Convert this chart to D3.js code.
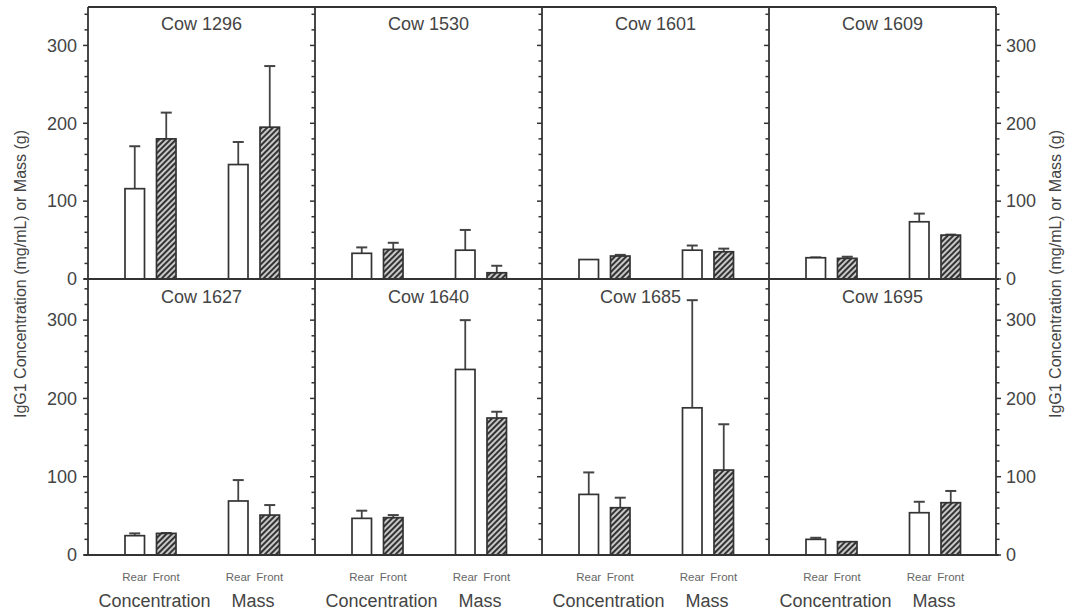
<!DOCTYPE html>
<html><head><meta charset="utf-8">
<script src="https://cdn.jsdelivr.net/npm/d3@7"></script>
<style>body{margin:0;background:#fff}svg{display:block}text{font-family:"Liberation Sans",Arial,sans-serif}</style>
</head><body>
<svg id="c" width="1071" height="615"></svg>
<script>
const cows = ["Cow 1296","Cow 1530","Cow 1601","Cow 1609","Cow 1627","Cow 1640","Cow 1685","Cow 1695"];
const groups = ["Concentration","Mass"];
const sides = ["Rear","Front"];
const rearConc   = [116, 33, 25, 27.3, 24.7, 46.8, 77.4, 20];
const rearConcSD = [54.5, 7.6, 0, 0.5, 2.9, 9.8, 28.1, 2];
const frontConc  = [180, 38, 29.5, 26.5, 27.6, 47.7, 60.4, 17];
const frontConcSD= [33.7, 8.5, 1.5, 2.1, 0.5, 3.3, 12.8, 0];
const rearMass   = [147, 37, 37, 73.5, 69, 237, 188, 54];
const rearMassSD = [29, 26, 6, 10.5, 26.7, 63, 137.5, 14];
const frontMass  = [195, 8, 35, 56.4, 51, 175, 108.5, 66.8];
const frontMassSD= [78.5, 9, 4, 0.6, 12.8, 8, 58.5, 15];
const yTicks = [0, 100, 200, 300];
const yTitle = "IgG1 Concentration (mg/mL) or Mass (g)";

const svg = d3.select("#c");
const defs = svg.append("defs");
const pat = defs.append("pattern").attr("id","hatch").attr("patternUnits","userSpaceOnUse")
  .attr("width",4).attr("height",4).attr("patternTransform","rotate(45)");
pat.append("rect").attr("width",4).attr("height",4).attr("fill","#c8c8c8");
pat.append("line").attr("x1",1).attr("y1",0).attr("x2",1).attr("y2",4).attr("stroke","#333").attr("stroke-width",2);

const X0 = 88, X1 = 996, pw = (X1 - X0) / 4;
const rows = [
  d3.scaleLinear().domain([0,350]).range([279, 6.5]),
  d3.scaleLinear().domain([0,350]).range([555, 281])
];
const gx = d3.scaleBand().domain(groups).range([10.75, 217.75]).padding(0);
const sx = d3.scaleBand().domain(sides).range([0, 51]).paddingInner(0.381).paddingOuter(0);
const titleShift = {"Cow 1685": -15};
const axisCol = "#333", txtCol = "#444";

const data = cows.map((c,i)=>({cow:c, i, bars:[
  {g:"Concentration", s:"Rear", v:rearConc[i], e:rearConcSD[i]},
  {g:"Concentration", s:"Front", v:frontConc[i], e:frontConcSD[i]},
  {g:"Mass", s:"Rear", v:rearMass[i], e:rearMassSD[i]},
  {g:"Mass", s:"Front", v:frontMass[i], e:frontMassSD[i]}
]}));

data.forEach(d=>{
  const r = Math.floor(d.i/4), col = d.i%4;
  const y = rows[r];
  const px = X0 + col*pw;
  const g = svg.append("g").attr("transform",`translate(${px},0)`);
  const bx = b => gx(b.g) + gx.bandwidth()/2 - 25.5 + sx(b.s);
  d.bars.filter(b=>b.e>0).forEach(b=>{
    const cx = bx(b) + sx.bandwidth()/2;
    g.append("line").attr("x1",cx).attr("x2",cx).attr("y1",y(b.v)).attr("y2",y(b.v+b.e))
      .attr("stroke","#444").attr("stroke-width",1.8);
    g.append("line").attr("x1",cx-5.5).attr("x2",cx+5.5).attr("y1",y(b.v+b.e)).attr("y2",y(b.v+b.e))
      .attr("stroke","#444").attr("stroke-width",2);
  });
  g.selectAll("rect.bar").data(d.bars).join("rect").attr("class","bar")
    .attr("x",bx).attr("width",sx.bandwidth())
    .attr("y",b=>y(b.v)).attr("height",b=>y(0)-y(b.v))
    .attr("fill",b=>b.s==="Rear"?"#fff":"url(#hatch)")
    .attr("stroke","#333").attr("stroke-width",1.7);
  g.append("text").attr("x",pw/2 + (titleShift[d.cow]||0)).attr("y",y.range()[1]+ (r===0?23.5:22))
    .attr("text-anchor","middle").attr("font-size",18).attr("fill",txtCol).text(d.cow);
  if (r===1){
    d.bars.forEach(b=>{
      g.append("text").attr("x",bx(b)+sx.bandwidth()/2).attr("y",581).attr("text-anchor","middle")
        .attr("font-size",11.5).attr("fill","#666").text(b.s);
    });
    groups.forEach(gr=>{
      g.append("text").attr("x",gx(gr)+gx.bandwidth()/2 + (gr==="Concentration"?4:-1)).attr("y",607)
        .attr("text-anchor","middle").attr("font-size",18).attr("fill",txtCol).text(gr);
    });
  }
});

rows.forEach((y,r)=>{
  const yTop = r===0 ? 7 : 279;
  for (let k=0;k<=4;k++){
    const x = X0 + k*pw;
    svg.append("line").attr("x1",x).attr("x2",x).attr("y1",yTop).attr("y2",y(0))
      .attr("stroke",axisCol).attr("stroke-width",1.8);
    const dir = k===4 ? 1 : -1;
    const minor = d3.range(0, 341, 20);
    svg.selectAll(null).data(minor).join("line")
      .attr("x1",x).attr("x2",v=> x + dir*(v%100===0?5:3.5))
      .attr("y1",v=>y(v)).attr("y2",v=>y(v))
      .attr("stroke",axisCol).attr("stroke-width",1.5);
  }
  svg.append("line").attr("x1",X0-4).attr("x2",X1+3).attr("y1",y(0)).attr("y2",y(0))
    .attr("stroke",axisCol).attr("stroke-width",1.8);
  svg.selectAll(null).data(yTicks).join("text").attr("x",77).attr("y",v=>y(v))
    .attr("dy","0.35em").attr("text-anchor","end").attr("font-size",18).attr("fill",txtCol).text(v=>v);
  svg.selectAll(null).data(yTicks).join("text").attr("x",1006).attr("y",v=>y(v))
    .attr("dy","0.35em").attr("text-anchor","start").attr("font-size",18).attr("fill",txtCol).text(v=>v);
});
svg.append("line").attr("x1",X0).attr("x2",X1).attr("y1",7).attr("y2",7).attr("stroke",axisCol).attr("stroke-width",1.8);

svg.append("text").attr("transform","translate(26,274) rotate(-90)").attr("text-anchor","middle")
  .attr("font-size",16).attr("fill",txtCol).text(yTitle);
svg.append("text").attr("transform","translate(1061,274) rotate(-90)").attr("text-anchor","middle")
  .attr("font-size",16).attr("fill",txtCol).text(yTitle);
</script>
</body></html>
